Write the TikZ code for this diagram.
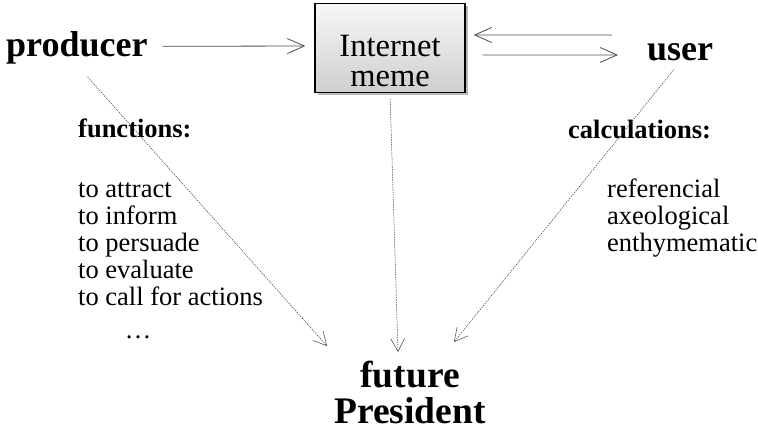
\documentclass[tikz,border=0pt]{standalone}
\usepackage{fontspec}
\setmainfont{Liberation Serif}
\usetikzlibrary{arrows.meta,shadows}

\tikzset{
  actor/.style={font=\fontsize{36}{36}\selectfont\bfseries, inner sep=0pt},
  heading/.style={font=\fontsize{26.5}{27}\selectfont\bfseries, inner sep=0pt, anchor=base west},
  listing/.style={font=\fontsize{26.5}{27}\selectfont, inner sep=0pt, anchor=base west},
  memebox/.style={draw=black, line width=1.4pt, top color=gray!6, bottom color=gray!38,
    minimum width=150pt, minimum height=89pt, align=center, inner sep=0pt,
    font=\fontsize{32.5}{30}\selectfont,
    drop shadow={shadow xshift=3pt, shadow yshift=-3pt, fill=gray!55, opacity=1}},
  flow/.style={draw=black!70, line width=0.8pt, -{Straight Barb[length=17pt,width=15pt]}},
  hint/.style={draw=black!75, line width=0.5pt, dash pattern=on 1.5pt off 1pt,
    -{Straight Barb[length=13pt,width=14pt]}},
}

\begin{document}
\begin{tikzpicture}[x=1pt, y=-1pt]
  \useasboundingbox (0,0) rectangle (758,436);

  % actors and the meme
  \node[actor, anchor=base west] (producer) at (6,57) {producer};
  \node[actor, anchor=base west] (user) at (647,61) {user};
  \node[memebox] (meme) at (390,48) {\rule{0pt}{47pt}Internet\\meme};
  \node[actor, font=\fontsize{37.5}{36}\selectfont\bfseries, align=center, anchor=south] (pres) at (410,424) {future\\President};

  % left column
  \node[heading] (functions) at (78,137) {functions:};
  \foreach \txt [count=\i] in {to attract, to inform, to persuade, to evaluate, to call for actions}
    \node[listing] (fn\i) at (78,170+27*\i) {\txt};
  \node[listing, anchor=base] (fndots) at (138,338) {…};

  % right column
  \node[heading] (calculations) at (568,138) {calculations:};
  \foreach \txt [count=\i] in {referencial, axeological, enthymematic}
    \node[listing] (calc\i) at (607,170+27*\i) {\txt};

  % solid connectors
  \draw[flow, shorten <=15pt, shorten >=9pt] ([yshift=2pt]producer.east) -- ([yshift=2pt]meme.west);
  \draw[flow, shorten <=35pt, shorten >=8pt] ([yshift=17.7pt]user.west) -- ([yshift=13pt]meme.east);
  \draw[flow, shorten <=17pt, shorten >=29pt] ([yshift=-7pt]meme.east) -- ([yshift=-2.3pt]user.west);

  % dotted connectors
  \coordinate (tipL) at (327,346);
  \coordinate (tipM) at (398,352);
  \coordinate (tipR) at (454,342);
  \draw[hint, shorten <=16pt] (producer.south) -- (tipL);
  \draw[hint, shorten <=6pt] (meme.south) -- (tipM);
  \draw[hint, shorten <=10pt] (user.south) -- (tipR);
\end{tikzpicture}
\end{document}
